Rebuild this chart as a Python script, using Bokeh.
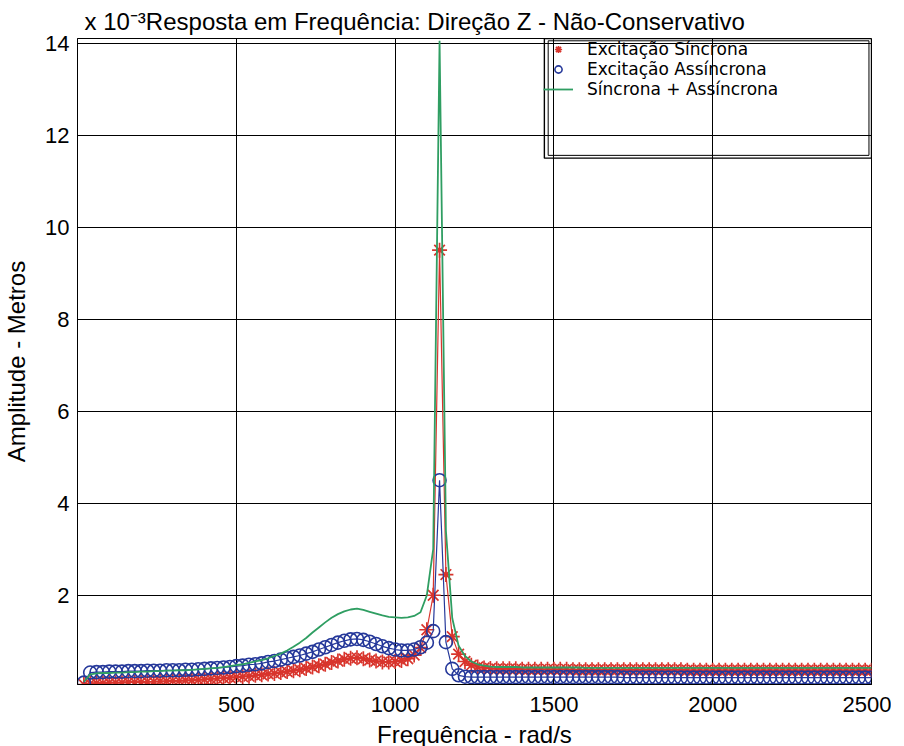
from bokeh.plotting import figure
from bokeh.models import (ColumnDataSource, Range1d, FixedTicker, Legend,
                          LegendItem, BoxAnnotation)
from bokeh.embed import file_html
from bokeh.resources import INLINE

# Frequency samples (rad/s)
freq = list(range(20, 2501, 20))

# Amplitudes in units of 1e-3 m
sincrona = [
    0.06, 0.08, 0.09, 0.09, 0.10, 0.10, 0.10, 0.11, 0.11, 0.11,
    0.12, 0.12, 0.13, 0.13, 0.14, 0.14, 0.15, 0.15, 0.16, 0.17,
    0.18, 0.19, 0.20, 0.21, 0.22, 0.23, 0.24, 0.26, 0.27, 0.29,
    0.30, 0.32, 0.34, 0.36, 0.38, 0.41, 0.44, 0.47, 0.50, 0.54,
    0.57, 0.61, 0.63, 0.64, 0.62, 0.59, 0.57, 0.55, 0.55, 0.56,
    0.58, 0.62, 0.70, 0.86, 1.25, 2.00, 9.50, 2.45, 1.10, 0.72,
    0.56, 0.48, 0.44, 0.42, 0.41,
    0.40, 0.40, 0.40, 0.40, 0.39, 0.39, 0.39, 0.39, 0.39, 0.39,
    0.39, 0.39, 0.38, 0.38, 0.38, 0.38, 0.38, 0.38, 0.38, 0.38,
    0.38, 0.38, 0.38, 0.38, 0.38, 0.38, 0.38, 0.38, 0.38, 0.38,
    0.37, 0.37, 0.37, 0.37, 0.37, 0.37, 0.37, 0.37, 0.37, 0.37,
    0.37, 0.37, 0.37, 0.37, 0.37, 0.37, 0.37, 0.37, 0.37, 0.37,
    0.37, 0.37, 0.37, 0.37, 0.37, 0.37, 0.37, 0.37, 0.37, 0.37,
]
assincrona = [
    0.10, 0.32, 0.33, 0.33, 0.34, 0.34, 0.34, 0.35, 0.35, 0.35,
    0.36, 0.36, 0.36, 0.37, 0.37, 0.37, 0.38, 0.38, 0.39, 0.40,
    0.41, 0.42, 0.43, 0.44, 0.46, 0.47, 0.49, 0.50, 0.52, 0.55,
    0.57, 0.60, 0.63, 0.66, 0.69, 0.73, 0.77, 0.82, 0.87, 0.92,
    0.97, 1.01, 1.04, 1.05, 1.03, 0.99, 0.94, 0.89, 0.85, 0.82,
    0.80, 0.80, 0.82, 0.87, 0.97, 1.22, 4.50, 0.98, 0.40, 0.26,
    0.23, 0.22, 0.22, 0.22, 0.22,
    0.22, 0.22, 0.22, 0.22, 0.22, 0.22, 0.22, 0.22, 0.22, 0.22,
    0.22, 0.22, 0.22, 0.22, 0.22, 0.22, 0.22, 0.22, 0.22, 0.22,
    0.21, 0.21, 0.21, 0.21, 0.21, 0.21, 0.21, 0.21, 0.21, 0.21,
    0.21, 0.21, 0.21, 0.21, 0.21, 0.21, 0.21, 0.21, 0.21, 0.21,
    0.21, 0.21, 0.21, 0.21, 0.21, 0.21, 0.21, 0.21, 0.21, 0.21,
    0.21, 0.21, 0.21, 0.21, 0.21, 0.21, 0.21, 0.21, 0.21, 0.21,
]
soma = [
    0.12, 0.28, 0.30, 0.31, 0.31, 0.32, 0.32, 0.33, 0.33, 0.34,
    0.34, 0.35, 0.35, 0.36, 0.36, 0.37, 0.37, 0.38, 0.39, 0.40,
    0.41, 0.42, 0.44, 0.46, 0.48, 0.50, 0.53, 0.56, 0.59, 0.63,
    0.68, 0.73, 0.80, 0.88, 0.97, 1.07, 1.19, 1.30, 1.41, 1.51,
    1.59, 1.65, 1.69, 1.71, 1.68, 1.64, 1.60, 1.56, 1.53, 1.52,
    1.51, 1.52, 1.55, 1.63, 2.00, 3.00, 14.05, 3.40, 1.50, 0.90,
    0.68, 0.56, 0.50, 0.47, 0.45,
    0.44, 0.44, 0.44, 0.44, 0.43, 0.43, 0.43, 0.43, 0.43, 0.43,
    0.43, 0.43, 0.43, 0.43, 0.42, 0.42, 0.42, 0.42, 0.42, 0.42,
    0.42, 0.42, 0.42, 0.42, 0.42, 0.42, 0.42, 0.42, 0.42, 0.42,
    0.42, 0.42, 0.42, 0.42, 0.42, 0.42, 0.42, 0.42, 0.42, 0.42,
    0.42, 0.42, 0.42, 0.42, 0.42, 0.42, 0.42, 0.42, 0.42, 0.42,
    0.42, 0.42, 0.42, 0.42, 0.42, 0.42, 0.42, 0.42, 0.42, 0.42,
]

series_labels = ["Excitação Síncrona", "Excitação Assíncrona", "Síncrona + Assíncrona"]
x_ticks = [500, 1000, 1500, 2000, 2500]
y_ticks = [2, 4, 6, 8, 10, 12, 14]

RED = "#d8342c"
BLUE = "#25389a"
GREEN = "#2f9e62"
FONT = "Liberation Sans"

src = ColumnDataSource(dict(freq=freq, sinc=sincrona, assinc=assincrona, soma=soma))

p = figure(frame_width=794, frame_height=646,
           x_range=Range1d(0, 2500), y_range=Range1d(0.06, 14.1),
           output_backend="svg", toolbar_location=None,
           min_border_left=70, min_border_top=38, min_border_right=20, min_border_bottom=50,
           background_fill_color="white", border_fill_color="white",
           title="x 10\u207b\u00b3Resposta em Frequência: Direção Z - Não-Conservativo")

p.title.text_font = FONT
p.title.text_font_size = "24px"
p.title.text_font_style = "normal"
p.title.text_color = "black"
p.title.align = "left"
p.title.offset = 7
p.title.standoff = 8

p.outline_line_color = "black"
p.outline_line_width = 1

for g, t in ((p.xgrid, x_ticks), (p.ygrid, y_ticks)):
    g.ticker = FixedTicker(ticks=t)
    g.grid_line_color = "black"
    g.grid_line_alpha = 1.0
    g.grid_line_width = 1

p.xaxis.ticker = FixedTicker(ticks=x_ticks)
p.yaxis.ticker = FixedTicker(ticks=y_ticks)
for ax in (p.xaxis[0], p.yaxis[0]):
    ax.axis_line_color = "black"
    ax.major_tick_in = 6
    ax.major_tick_out = 0
    ax.major_tick_line_color = "black"
    ax.minor_tick_line_color = None
    ax.major_label_text_font = FONT
    ax.major_label_text_font_size = "22px"
    ax.major_label_text_color = "black"
    ax.axis_label_text_font = FONT
    ax.axis_label_text_font_size = "24px"
    ax.axis_label_text_font_style = "normal"
    ax.axis_label_text_color = "black"

p.xaxis.axis_label = "Frequência - rad/s"
p.yaxis.axis_label = "Amplitude - Metros"
p.xaxis.major_label_standoff = 12
p.xaxis.axis_label_standoff = 6
p.yaxis.major_label_standoff = 8
p.yaxis.axis_label_standoff = 12

# Series
p.line("freq", "sinc", source=src, line_color=RED, line_width=1.2)
r_sinc = p.scatter("freq", "sinc", source=src, marker="asterisk", size=15,
                   line_color=RED, line_width=1.7)
p.line("freq", "assinc", source=src, line_color=BLUE, line_width=1.2)
r_asin = p.scatter("freq", "assinc", source=src, marker="circle", size=13,
                   line_color=BLUE, fill_color=None, line_width=1.6)
r_soma = p.line("freq", "soma", source=src, line_color=GREEN, line_width=1.8)

# Legend frame (double edge as in the printed original)
p.add_layout(BoxAnnotation(left=1470, right=2500, top=14.1, bottom=11.5,
                           fill_alpha=0, line_color="black", line_alpha=1.0,
                           line_width=1.4))
p.add_layout(BoxAnnotation(left=1482, right=2492, top=14.05, bottom=11.56,
                           fill_alpha=0, line_color="black", line_alpha=1.0,
                           line_width=1.0))

# Closely stacked legend entries (one Legend per entry for tight control)
for renderer, lab, ypos in zip((r_sinc, r_asin, r_soma), series_labels, (625, 605, 585)):
    lg = Legend(items=[LegendItem(label=lab, renderers=[renderer])],
                location=(466, ypos), orientation="vertical",
                padding=0, margin=0, spacing=0,
                glyph_height=18, glyph_width=30, label_height=18, label_standoff=14,
                label_text_font="DejaVu Sans", label_text_font_size="17px",
                label_text_color="black",
                border_line_alpha=0, background_fill_alpha=0)
    p.add_layout(lg)

open("out.html", "w").write(file_html(p, INLINE))
